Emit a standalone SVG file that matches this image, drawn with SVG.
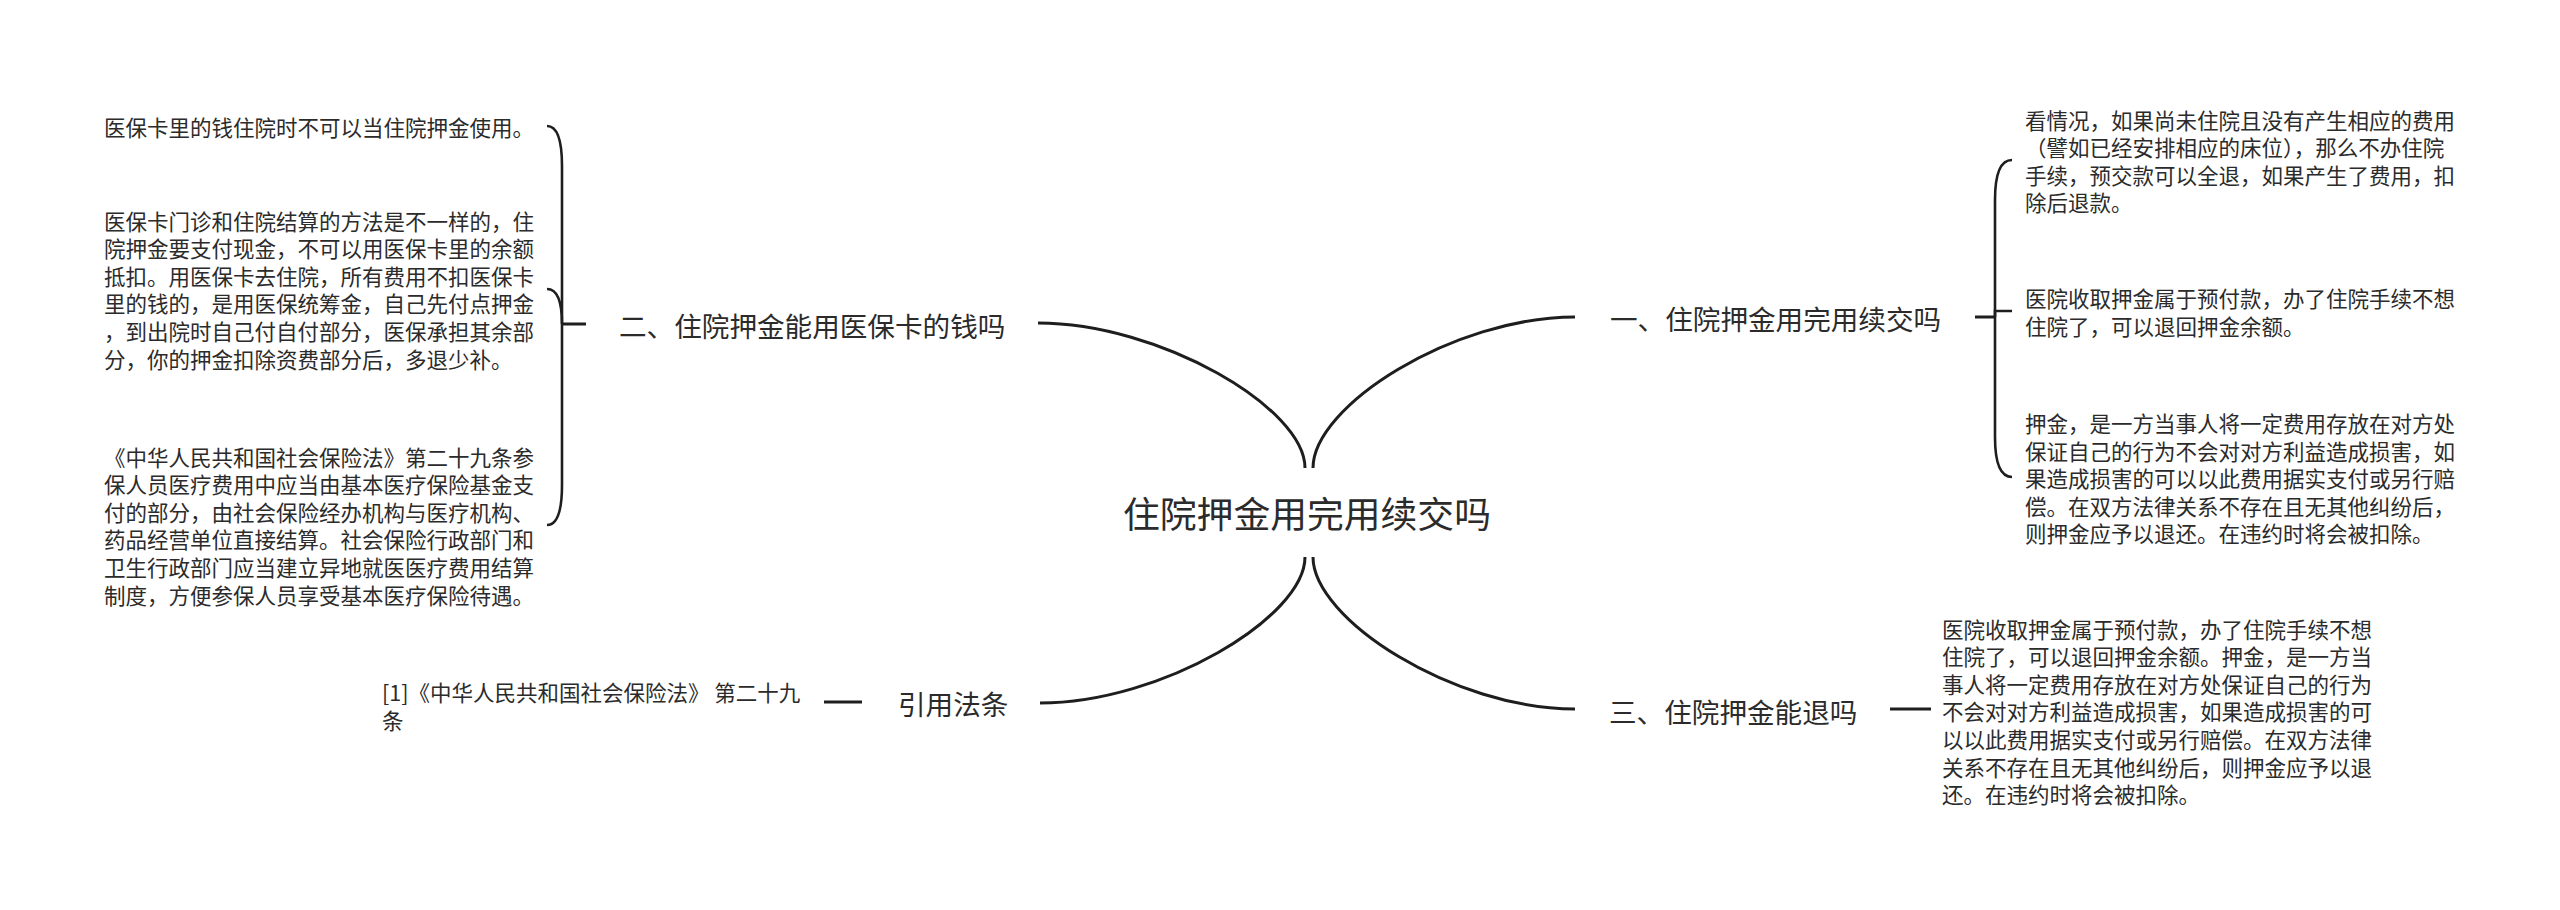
<svg xmlns="http://www.w3.org/2000/svg" width="2560" height="910" viewBox="0 0 2560 910">
<style>
text{font-family:"Noto Sans CJK SC","Microsoft YaHei",sans-serif;fill:#2b2b2b;dominant-baseline:central}
.root{font-size:36.8px}
.l1{font-size:27.6px}
.leaf{font-size:21.5px}
.ln{fill:none;stroke:#1e1e1e;stroke-width:3;stroke-linecap:butt}
.br{fill:none;stroke:#1e1e1e;stroke-width:2.6}
</style>
<rect width="2560" height="910" fill="#fff"/>
<g id="connectors">
<path class="ln" d="M1038,323 C1160,323 1305,408 1305,468"/>
<path class="ln" d="M1575,317 C1453,317 1313,406 1313,468"/>
<path class="ln" d="M1040,703 C1162,703 1305,617 1305,557"/>
<path class="ln" d="M1575,709 C1453,709 1313,619 1313,557"/>
<path class="ln" d="M1975,317 H1995"/>
<path class="br" d="M1995,317 V200 Q1995,160 2012,160"/>
<path class="br" d="M1995,317 V311 H2012"/>
<path class="br" d="M1995,317 V437 Q1995,477 2012,477"/>
<path class="ln" d="M586,324 H562"/>
<path class="br" d="M562,324 V166 Q562,126 547,126"/>
<path class="br" d="M562,324 Q562,289 547,289"/>
<path class="br" d="M562,324 V485 Q562,525 547,525"/>
<path class="ln" d="M1890,709 H1931"/>
<path class="ln" d="M824,702 H862"/>
</g>
<g id="root"><text class="root" x="1123" y="512">住院押金用完用续交吗</text></g>
<g id="n1"><text class="l1" x="1610" y="318">一、住院押金用完用续交吗</text></g>
<g id="n2"><text class="l1" x="619" y="325">二、住院押金能用医保卡的钱吗</text></g>
<g id="n3"><text class="l1" x="1609" y="711">三、住院押金能退吗</text></g>
<g id="n4"><text class="l1" x="898" y="703">引用法条</text></g>
<g id="n1a"><text class="leaf" x="2025" y="119">看情况，如果尚未住院且没有产生相应的费用</text><text class="leaf" x="2025" y="146.6">（譬如已经安排相应的床位），那么不办住院</text><text class="leaf" x="2025" y="174.2">手续，预交款可以全退，如果产生了费用，扣</text><text class="leaf" x="2025" y="201.8">除后退款。</text></g>
<g id="n1b"><text class="leaf" x="2025" y="297.5">医院收取押金属于预付款，办了住院手续不想</text><text class="leaf" x="2025" y="325.1">住院了，可以退回押金余额。</text></g>
<g id="n1c"><text class="leaf" x="2025" y="422.5">押金，是一方当事人将一定费用存放在对方处</text><text class="leaf" x="2025" y="450.1">保证自己的行为不会对对方利益造成损害，如</text><text class="leaf" x="2025" y="477.7">果造成损害的可以以此费用据实支付或另行赔</text><text class="leaf" x="2025" y="505.3">偿。在双方法律关系不存在且无其他纠纷后，</text><text class="leaf" x="2025" y="532.9">则押金应予以退还。在违约时将会被扣除。</text></g>
<g id="n2a"><text class="leaf" x="104" y="126">医保卡里的钱住院时不可以当住院押金使用。</text></g>
<g id="n2b"><text class="leaf" x="104" y="220">医保卡门诊和住院结算的方法是不一样的，住</text><text class="leaf" x="104" y="247.6">院押金要支付现金，不可以用医保卡里的余额</text><text class="leaf" x="104" y="275.2">抵扣。用医保卡去住院，所有费用不扣医保卡</text><text class="leaf" x="104" y="302.8">里的钱的，是用医保统筹金，自己先付点押金</text><text class="leaf" x="104" y="330.4">，到出院时自己付自付部分，医保承担其余部</text><text class="leaf" x="104" y="358">分，你的押金扣除资费部分后，多退少补。</text></g>
<g id="n2c"><text class="leaf" x="104" y="456">《中华人民共和国社会保险法》第二十九条参</text><text class="leaf" x="104" y="483.6">保人员医疗费用中应当由基本医疗保险基金支</text><text class="leaf" x="104" y="511.2">付的部分，由社会保险经办机构与医疗机构、</text><text class="leaf" x="104" y="538.8">药品经营单位直接结算。社会保险行政部门和</text><text class="leaf" x="104" y="566.4">卫生行政部门应当建立异地就医医疗费用结算</text><text class="leaf" x="104" y="594">制度，方便参保人员享受基本医疗保险待遇。</text></g>
<g id="n3a"><text class="leaf" x="1942" y="628">医院收取押金属于预付款，办了住院手续不想</text><text class="leaf" x="1942" y="655.6">住院了，可以退回押金余额。押金，是一方当</text><text class="leaf" x="1942" y="683.2">事人将一定费用存放在对方处保证自己的行为</text><text class="leaf" x="1942" y="710.8">不会对对方利益造成损害，如果造成损害的可</text><text class="leaf" x="1942" y="738.4">以以此费用据实支付或另行赔偿。在双方法律</text><text class="leaf" x="1942" y="766">关系不存在且无其他纠纷后，则押金应予以退</text><text class="leaf" x="1942" y="793.6">还。在违约时将会被扣除。</text></g>
<g id="n4a"><text class="leaf" x="382" y="691">[1]《中华人民共和国社会保险法》 第二十九</text><text class="leaf" x="382" y="719">条</text></g>
</svg>
